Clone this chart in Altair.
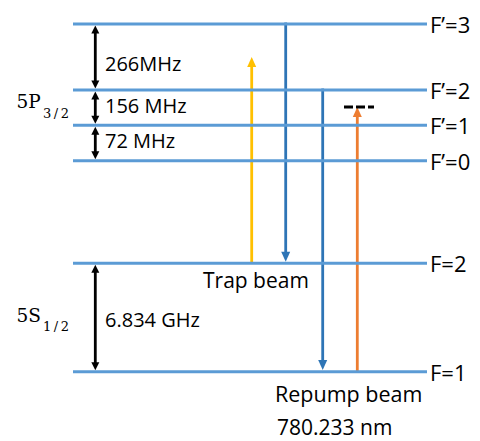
import altair as alt
import pandas as pd

# Rb-87 D2 line hyperfine structure (schematic heights, measured upward from the bottom)
level_names = ["F’=3", "F’=2", "F’=1", "F’=0", "F=2", "F=1"]
level_heights = [417.0, 351.0, 315.7, 280.3, 177.7, 69.3]

# Splittings between neighbouring levels
gap_labels = ["266MHz", "156 MHz", "72 MHz", "6.834 GHz"]
gap_upper = ["F’=3", "F’=2", "F’=1", "F=2"]
gap_lower = ["F’=2", "F’=1", "F’=0", "F=1"]

# Optical transitions: lasers (up) and spontaneous decays (down)
beam_names = ["trap", "trap decay", "repump decay", "repump"]
beam_from = ["F=2", "F’=3", "F’=2", "F=1"]
trap_top = 384.0          # schematic end of the trap-laser arrow
repump_virtual = 334.0    # detuned virtual level reached by the repump laser
beam_to = [trap_top, "F=2", "F=1", repump_virtual]

# Annotation text
beam_texts = ["Trap beam", "Repump beam", "780.233 nm"]

# ---- layout / styles ----
W, H = 480, 441
LEVEL_X0, LEVEL_X1 = 73, 427
GAP_X = 95.3
BEAM_X = {"trap": 251.7, "trap decay": 285.7, "repump decay": 322.7, "repump": 357.3}
BEAM_COLOR = {"trap": "#FFC000", "trap decay": "#2E75B6",
              "repump decay": "#2E75B6", "repump": "#ED7D31"}
LEVEL_COLOR = "#5B9BD5"
SANS = "Open Sans"
SERIF = "DejaVu Serif"
GAP_SHIFT = {"266MHz": 14, "156 MHz": 5, "72 MHz": 5.3, "6.834 GHz": 9.2}
TEXT_POS = {"Trap beam": (203, 153.0, 21), "Repump beam": (275, 39.3, 21.5),
            "780.233 nm": (277, 6.0, 21)}

height_of = dict(zip(level_names, level_heights))


def h(v):
    return height_of[v] if isinstance(v, str) else float(v)


def head_path(up, half_w, length):
    # arrow head with its tip at the origin (pixel units at size 4)
    s = 1 if up else -1
    return f"M0,0L{-half_w},{s * length}L{half_w},{s * length}Z"


X = lambda f: alt.X(f, scale=alt.Scale(domain=[0, W], nice=False), axis=None)
Y = lambda f: alt.Y(f, scale=alt.Scale(domain=[0, H], nice=False), axis=None)

levels = pd.DataFrame({"name": level_names, "y": level_heights})

# transitions
rows, heads = [], []
for name, a, b in zip(beam_names, beam_from, beam_to):
    y0, y1 = h(a), h(b)
    up = y1 > y0
    hl = 10
    tip = y1 if up else y1 + 1.6
    start = y0 if up else y0 + 1.5
    rows.append({"x": BEAM_X[name], "y": start,
                 "y2": tip - (hl - 3) if up else tip + (hl - 3),
                 "c": BEAM_COLOR[name]})
    heads.append({"x": BEAM_X[name], "y": tip, "c": BEAM_COLOR[name],
                  "shape": head_path(up, 4.5, hl)})

# level spacing double arrows
for lab, u, l in zip(gap_labels, gap_upper, gap_lower):
    yu, yl = h(u) - 1.5, h(l) + 1.5
    rows.append({"x": GAP_X, "y": yu - 6, "y2": yl + 6, "c": "#000000"})
    heads.append({"x": GAP_X, "y": yu, "c": "#000000", "shape": head_path(True, 4, 8)})
    heads.append({"x": GAP_X, "y": yl, "c": "#000000", "shape": head_path(False, 4, 8)})

stems_df = pd.DataFrame(rows)
heads_df = pd.DataFrame(heads)

stems = alt.Chart(stems_df).mark_rule(strokeWidth=2.8, strokeCap="butt").encode(
    x=X("x:Q"), y=Y("y:Q"), y2="y2:Q", color=alt.Color("c:N", scale=None))

head_marks = alt.Chart(heads_df).mark_point(filled=True, size=4, opacity=1, strokeWidth=0).encode(
    x=X("x:Q"), y=Y("y:Q"), color=alt.Color("c:N", scale=None),
    shape=alt.Shape("shape:N", scale=None))

level_lines = alt.Chart(levels).mark_rule(strokeWidth=3, color=LEVEL_COLOR).encode(
    x=alt.value(LEVEL_X0), x2=alt.value(LEVEL_X1), y=Y("y:Q"))

level_text = alt.Chart(levels).mark_text(
    align="left", baseline="alphabetic", dy=9, font=SANS, fontSize=22, color="#000000"
).encode(x=alt.value(LEVEL_X1 + 3), y=Y("y:Q"), text="name:N")

gaps = pd.DataFrame({"label": gap_labels,
                     "y": [(h(u) + h(l)) / 2 - GAP_SHIFT[t]
                           for t, u, l in zip(gap_labels, gap_upper, gap_lower)]})
gap_text = alt.Chart(gaps).mark_text(
    align="left", baseline="alphabetic", font=SANS, fontSize=20, color="#000000"
).encode(x=alt.value(105), y=Y("y:Q"), text="label:N")

virtual = alt.Chart(pd.DataFrame({"y": [repump_virtual]})).mark_rule(
    strokeWidth=3, strokeDash=[9, 3], color="#000000", strokeCap="butt"
).encode(x=alt.value(344), x2=alt.value(374), y=Y("y:Q"))

ann = pd.DataFrame({"t": beam_texts,
                    "x": [TEXT_POS[t][0] for t in beam_texts],
                    "y": [TEXT_POS[t][1] for t in beam_texts],
                    "fs": [TEXT_POS[t][2] for t in beam_texts]})
ann_text = alt.Chart(ann).mark_text(
    align="left", baseline="alphabetic", font=SANS, color="#000000"
).encode(x=X("x:Q"), y=Y("y:Q"), text="t:N",
         size=alt.Size("fs:Q", scale=None, legend=None))

# manifold labels with subscripts
manifolds = pd.DataFrame({"t": ["5P", "5S"], "y": [H - 108.3, H - 321.7]})
subs = pd.DataFrame({"t": ["3\u2009/\u20092", "1\u2009/\u20092"], "y": [H - 118.3, H - 330.5]})
man_text = alt.Chart(manifolds).mark_text(
    align="left", baseline="alphabetic", font=SERIF, fontSize=18.5, color="#000000"
).encode(x=alt.value(16.5), y=Y("y:Q"), text="t:N")
sub_text = alt.Chart(subs).mark_text(
    align="left", baseline="alphabetic", font=SERIF, fontSize=13, color="#000000"
).encode(x=alt.value(43), y=Y("y:Q"), text="t:N")

chart = alt.layer(
    stems, head_marks, level_lines, virtual, level_text, gap_text, ann_text, man_text, sub_text
).properties(
    width=W, height=H, padding=0, autosize=alt.AutoSizeParams(type="none"),
    background="#ffffff"
).configure_view(strokeWidth=0)

chart.save("out.html", embed_options={"renderer": "svg", "actions": False})
